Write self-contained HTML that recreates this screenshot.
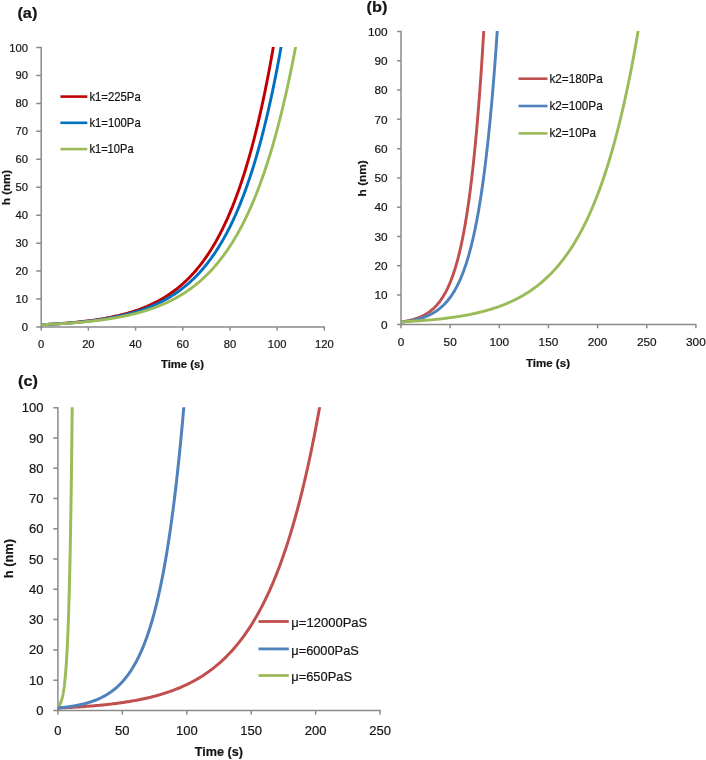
<!DOCTYPE html>
<html><head><meta charset="utf-8"><style>
html,body{margin:0;padding:0;background:#fff;width:706px;height:760px;overflow:hidden}
svg{display:block;will-change:transform}
text{font-family:"Liberation Sans", sans-serif;fill:#141414;stroke:#141414;stroke-width:0.2px}
</style></head><body>
<svg width="706" height="760" viewBox="0 0 706 760">
<rect width="706" height="760" fill="#fff"/>
<path d="M41.2 46.75 L41.2 330.6 M36.2 327 L325.05 327 M36.2 299.05 L41.2 299.05 M36.2 271.1 L41.2 271.1 M36.2 243.15 L41.2 243.15 M36.2 215.2 L41.2 215.2 M36.2 187.25 L41.2 187.25 M36.2 159.3 L41.2 159.3 M36.2 131.35 L41.2 131.35 M36.2 103.4 L41.2 103.4 M36.2 75.45 L41.2 75.45 M36.2 47.5 L41.2 47.5 M88.38 327 L88.38 330.6 M135.57 327 L135.57 330.6 M182.75 327 L182.75 330.6 M229.93 327 L229.93 330.6 M277.12 327 L277.12 330.6 M324.3 327 L324.3 330.6 " stroke="#8a8a8a" stroke-width="1.5" fill="none"/>
<text x="28" y="331" text-anchor="end" font-size="11.2">0</text>
<text x="28" y="303.05" text-anchor="end" font-size="11.2">10</text>
<text x="28" y="275.1" text-anchor="end" font-size="11.2">20</text>
<text x="28" y="247.15" text-anchor="end" font-size="11.2">30</text>
<text x="28" y="219.2" text-anchor="end" font-size="11.2">40</text>
<text x="28" y="191.25" text-anchor="end" font-size="11.2">50</text>
<text x="28" y="163.3" text-anchor="end" font-size="11.2">60</text>
<text x="28" y="135.35" text-anchor="end" font-size="11.2">70</text>
<text x="28" y="107.4" text-anchor="end" font-size="11.2">80</text>
<text x="28" y="79.45" text-anchor="end" font-size="11.2">90</text>
<text x="28" y="51.5" text-anchor="end" font-size="11.2">100</text>
<text x="41.2" y="348" text-anchor="middle" font-size="11.2">0</text>
<text x="88.38" y="348" text-anchor="middle" font-size="11.2">20</text>
<text x="135.57" y="348" text-anchor="middle" font-size="11.2">40</text>
<text x="182.75" y="348" text-anchor="middle" font-size="11.2">60</text>
<text x="229.93" y="348" text-anchor="middle" font-size="11.2">80</text>
<text x="277.12" y="348" text-anchor="middle" font-size="11.2">100</text>
<text x="324.3" y="348" text-anchor="middle" font-size="11.2">120</text>
<text x="161" y="368" font-size="11" font-weight="bold" textLength="43" lengthAdjust="spacingAndGlyphs">Time (s)</text>
<text transform="translate(10 205) rotate(-90)" x="0" y="0" font-size="11.5" font-weight="bold" textLength="35" lengthAdjust="spacingAndGlyphs">h (nm)</text>
<text x="17.4" y="17.5" font-size="15" font-weight="bold" textLength="20" lengthAdjust="spacingAndGlyphs">(a)</text>
<clipPath id="clipa"><rect x="37.2" y="47" width="313.1" height="285.5"/></clipPath>
<g clip-path="url(#clipa)" fill="none" stroke-width="2.9" stroke-linejoin="round">
<path d="M41.2 324.68 L42.26 324.63 L43.32 324.57 L44.38 324.52 L45.44 324.47 L46.5 324.41 L47.56 324.35 L48.61 324.29 L49.67 324.23 L50.73 324.17 L51.79 324.11 L52.85 324.05 L53.91 323.98 L54.97 323.91 L56.03 323.85 L57.09 323.78 L58.15 323.7 L59.21 323.63 L60.27 323.56 L61.32 323.48 L62.38 323.4 L63.44 323.32 L64.5 323.24 L65.56 323.16 L66.62 323.07 L67.68 322.99 L68.74 322.9 L69.8 322.81 L70.86 322.72 L71.92 322.62 L72.98 322.52 L74.04 322.43 L75.09 322.32 L76.15 322.22 L77.21 322.12 L78.27 322.01 L79.33 321.9 L80.39 321.78 L81.45 321.67 L82.51 321.55 L83.57 321.43 L84.63 321.31 L85.69 321.18 L86.75 321.05 L87.8 320.92 L88.86 320.79 L89.92 320.65 L90.98 320.51 L92.04 320.37 L93.1 320.22 L94.16 320.07 L95.22 319.92 L96.28 319.76 L97.34 319.6 L98.4 319.44 L99.46 319.27 L100.52 319.1 L101.57 318.92 L102.63 318.74 L103.69 318.56 L104.75 318.38 L105.81 318.19 L106.87 317.99 L107.93 317.79 L108.99 317.59 L110.05 317.38 L111.11 317.17 L112.17 316.95 L113.23 316.73 L114.28 316.5 L115.34 316.27 L116.4 316.03 L117.46 315.79 L118.52 315.54 L119.58 315.29 L120.64 315.03 L121.7 314.76 L122.76 314.49 L123.82 314.22 L124.88 313.93 L125.94 313.65 L127 313.35 L128.05 313.05 L129.11 312.74 L130.17 312.43 L131.23 312.1 L132.29 311.77 L133.35 311.44 L134.41 311.09 L135.47 310.74 L136.53 310.38 L137.59 310.01 L138.65 309.64 L139.71 309.26 L140.76 308.86 L141.82 308.46 L142.88 308.05 L143.94 307.63 L145 307.21 L146.06 306.77 L147.12 306.32 L148.18 305.86 L149.24 305.4 L150.3 304.92 L151.36 304.43 L152.42 303.93 L153.48 303.42 L154.53 302.9 L155.59 302.37 L156.65 301.82 L157.71 301.27 L158.77 300.7 L159.83 300.12 L160.89 299.52 L161.95 298.92 L163.01 298.29 L164.07 297.66 L165.13 297.01 L166.19 296.35 L167.25 295.67 L168.3 294.98 L169.36 294.27 L170.42 293.55 L171.48 292.81 L172.54 292.05 L173.6 291.28 L174.66 290.49 L175.72 289.68 L176.78 288.86 L177.84 288.02 L178.9 287.15 L179.96 286.27 L181.01 285.37 L182.07 284.45 L183.13 283.51 L184.19 282.55 L185.25 281.57 L186.31 280.56 L187.37 279.54 L188.43 278.49 L189.49 277.42 L190.55 276.32 L191.61 275.2 L192.67 274.05 L193.73 272.88 L194.78 271.69 L195.84 270.46 L196.9 269.22 L197.96 267.94 L199.02 266.63 L200.08 265.3 L201.14 263.93 L202.2 262.54 L203.26 261.11 L204.32 259.66 L205.38 258.17 L206.44 256.65 L207.49 255.09 L208.55 253.5 L209.61 251.88 L210.67 250.22 L211.73 248.52 L212.79 246.79 L213.85 245.01 L214.91 243.2 L215.97 241.35 L217.03 239.46 L218.09 237.52 L219.15 235.54 L220.21 233.52 L221.26 231.45 L222.32 229.34 L223.38 227.18 L224.44 224.98 L225.5 222.72 L226.56 220.42 L227.62 218.06 L228.68 215.65 L229.74 213.19 L230.8 210.68 L231.86 208.1 L232.92 205.48 L233.97 202.79 L235.03 200.04 L236.09 197.24 L237.15 194.37 L238.21 191.44 L239.27 188.44 L240.33 185.38 L241.39 182.25 L242.45 179.05 L243.51 175.78 L244.57 172.44 L245.63 169.02 L246.69 165.53 L247.74 161.96 L248.8 158.31 L249.86 154.58 L250.92 150.77 L251.98 146.87 L253.04 142.89 L254.1 138.82 L255.16 134.66 L256.22 130.41 L257.28 126.07 L258.34 121.62 L259.4 117.08 L260.45 112.44 L261.51 107.7 L262.57 102.85 L263.63 97.9 L264.69 92.83 L265.75 87.66 L266.81 82.37 L267.87 76.96 L268.93 71.43 L269.99 65.78 L271.05 60.01 L272.11 54.11 L273.17 48.08 L274.22 41.91" stroke="#C00000"/>
<path d="M41.2 324.74 L42.29 324.69 L43.39 324.64 L44.48 324.59 L45.58 324.53 L46.67 324.48 L47.77 324.42 L48.86 324.37 L49.96 324.31 L51.05 324.25 L52.14 324.19 L53.24 324.12 L54.33 324.06 L55.43 323.99 L56.52 323.93 L57.62 323.86 L58.71 323.79 L59.81 323.72 L60.9 323.64 L61.99 323.57 L63.09 323.49 L64.18 323.42 L65.28 323.34 L66.37 323.25 L67.47 323.17 L68.56 323.09 L69.65 323 L70.75 322.91 L71.84 322.82 L72.94 322.73 L74.03 322.63 L75.13 322.53 L76.22 322.44 L77.32 322.33 L78.41 322.23 L79.5 322.12 L80.6 322.02 L81.69 321.9 L82.79 321.79 L83.88 321.68 L84.98 321.56 L86.07 321.44 L87.17 321.31 L88.26 321.19 L89.35 321.06 L90.45 320.92 L91.54 320.79 L92.64 320.65 L93.73 320.51 L94.83 320.37 L95.92 320.22 L97.02 320.07 L98.11 319.91 L99.2 319.76 L100.3 319.59 L101.39 319.43 L102.49 319.26 L103.58 319.09 L104.68 318.91 L105.77 318.73 L106.87 318.55 L107.96 318.36 L109.05 318.17 L110.15 317.97 L111.24 317.77 L112.34 317.57 L113.43 317.36 L114.53 317.14 L115.62 316.92 L116.71 316.7 L117.81 316.47 L118.9 316.24 L120 316 L121.09 315.75 L122.19 315.5 L123.28 315.25 L124.38 314.99 L125.47 314.72 L126.56 314.45 L127.66 314.17 L128.75 313.88 L129.85 313.59 L130.94 313.29 L132.04 312.99 L133.13 312.68 L134.23 312.36 L135.32 312.03 L136.41 311.7 L137.51 311.36 L138.6 311.01 L139.7 310.66 L140.79 310.29 L141.89 309.92 L142.98 309.54 L144.08 309.15 L145.17 308.76 L146.26 308.35 L147.36 307.94 L148.45 307.51 L149.55 307.08 L150.64 306.64 L151.74 306.18 L152.83 305.72 L153.93 305.25 L155.02 304.76 L156.11 304.27 L157.21 303.76 L158.3 303.25 L159.4 302.72 L160.49 302.18 L161.59 301.63 L162.68 301.06 L163.77 300.49 L164.87 299.9 L165.96 299.29 L167.06 298.68 L168.15 298.05 L169.25 297.4 L170.34 296.75 L171.44 296.07 L172.53 295.38 L173.62 294.68 L174.72 293.96 L175.81 293.23 L176.91 292.48 L178 291.71 L179.1 290.93 L180.19 290.12 L181.29 289.3 L182.38 288.47 L183.47 287.61 L184.57 286.73 L185.66 285.84 L186.76 284.92 L187.85 283.99 L188.95 283.03 L190.04 282.05 L191.14 281.05 L192.23 280.03 L193.32 278.99 L194.42 277.92 L195.51 276.83 L196.61 275.71 L197.7 274.57 L198.8 273.41 L199.89 272.21 L200.99 271 L202.08 269.75 L203.17 268.48 L204.27 267.18 L205.36 265.85 L206.46 264.49 L207.55 263.1 L208.65 261.68 L209.74 260.22 L210.83 258.74 L211.93 257.22 L213.02 255.67 L214.12 254.08 L215.21 252.46 L216.31 250.8 L217.4 249.11 L218.5 247.38 L219.59 245.61 L220.68 243.8 L221.78 241.95 L222.87 240.06 L223.97 238.12 L225.06 236.15 L226.16 234.13 L227.25 232.06 L228.35 229.95 L229.44 227.79 L230.53 225.59 L231.63 223.33 L232.72 221.03 L233.82 218.67 L234.91 216.26 L236.01 213.8 L237.1 211.28 L238.2 208.71 L239.29 206.08 L240.38 203.39 L241.48 200.64 L242.57 197.83 L243.67 194.96 L244.76 192.03 L245.86 189.02 L246.95 185.96 L248.05 182.82 L249.14 179.61 L250.23 176.34 L251.33 172.99 L252.42 169.56 L253.52 166.06 L254.61 162.48 L255.71 158.83 L256.8 155.09 L257.89 151.26 L258.99 147.36 L260.08 143.36 L261.18 139.28 L262.27 135.1 L263.37 130.84 L264.46 126.48 L265.56 122.02 L266.65 117.46 L267.74 112.8 L268.84 108.04 L269.93 103.17 L271.03 98.19 L272.12 93.1 L273.22 87.9 L274.31 82.59 L275.41 77.15 L276.5 71.6 L277.59 65.92 L278.69 60.11 L279.78 54.18 L280.88 48.11 L281.97 41.91" stroke="#0070C0"/>
<path d="M41.2 324.74 L42.36 324.69 L43.52 324.64 L44.68 324.58 L45.84 324.53 L47 324.48 L48.16 324.42 L49.32 324.36 L50.48 324.3 L51.65 324.24 L52.81 324.18 L53.97 324.12 L55.13 324.06 L56.29 323.99 L57.45 323.92 L58.61 323.86 L59.77 323.79 L60.93 323.71 L62.09 323.64 L63.25 323.57 L64.41 323.49 L65.57 323.41 L66.73 323.33 L67.89 323.25 L69.05 323.17 L70.21 323.08 L71.38 323 L72.54 322.91 L73.7 322.82 L74.86 322.72 L76.02 322.63 L77.18 322.53 L78.34 322.43 L79.5 322.33 L80.66 322.22 L81.82 322.12 L82.98 322.01 L84.14 321.9 L85.3 321.79 L86.46 321.67 L87.62 321.55 L88.78 321.43 L89.94 321.31 L91.11 321.18 L92.27 321.05 L93.43 320.92 L94.59 320.78 L95.75 320.65 L96.91 320.5 L98.07 320.36 L99.23 320.21 L100.39 320.06 L101.55 319.91 L102.71 319.75 L103.87 319.59 L105.03 319.42 L106.19 319.25 L107.35 319.08 L108.51 318.91 L109.67 318.73 L110.83 318.54 L112 318.35 L113.16 318.16 L114.32 317.97 L115.48 317.77 L116.64 317.56 L117.8 317.35 L118.96 317.14 L120.12 316.92 L121.28 316.69 L122.44 316.46 L123.6 316.23 L124.76 315.99 L125.92 315.74 L127.08 315.49 L128.24 315.24 L129.4 314.98 L130.56 314.71 L131.73 314.44 L132.89 314.16 L134.05 313.87 L135.21 313.58 L136.37 313.28 L137.53 312.98 L138.69 312.67 L139.85 312.35 L141.01 312.02 L142.17 311.69 L143.33 311.35 L144.49 311 L145.65 310.64 L146.81 310.28 L147.97 309.91 L149.13 309.53 L150.29 309.14 L151.46 308.74 L152.62 308.34 L153.78 307.92 L154.94 307.5 L156.1 307.06 L157.26 306.62 L158.42 306.17 L159.58 305.71 L160.74 305.23 L161.9 304.75 L163.06 304.25 L164.22 303.75 L165.38 303.23 L166.54 302.7 L167.7 302.16 L168.86 301.61 L170.02 301.05 L171.19 300.47 L172.35 299.88 L173.51 299.28 L174.67 298.66 L175.83 298.03 L176.99 297.39 L178.15 296.73 L179.31 296.05 L180.47 295.37 L181.63 294.66 L182.79 293.95 L183.95 293.21 L185.11 292.46 L186.27 291.69 L187.43 290.91 L188.59 290.1 L189.75 289.28 L190.92 288.45 L192.08 287.59 L193.24 286.71 L194.4 285.82 L195.56 284.9 L196.72 283.97 L197.88 283.01 L199.04 282.03 L200.2 281.03 L201.36 280.01 L202.52 278.96 L203.68 277.9 L204.84 276.81 L206 275.69 L207.16 274.55 L208.32 273.38 L209.48 272.19 L210.64 270.97 L211.81 269.73 L212.97 268.45 L214.13 267.15 L215.29 265.82 L216.45 264.46 L217.61 263.07 L218.77 261.65 L219.93 260.2 L221.09 258.71 L222.25 257.2 L223.41 255.64 L224.57 254.06 L225.73 252.44 L226.89 250.78 L228.05 249.08 L229.21 247.35 L230.37 245.58 L231.54 243.77 L232.7 241.92 L233.86 240.03 L235.02 238.1 L236.18 236.12 L237.34 234.1 L238.5 232.04 L239.66 229.92 L240.82 227.77 L241.98 225.56 L243.14 223.31 L244.3 221 L245.46 218.64 L246.62 216.24 L247.78 213.77 L248.94 211.26 L250.1 208.68 L251.27 206.05 L252.43 203.36 L253.59 200.62 L254.75 197.81 L255.91 194.94 L257.07 192 L258.23 189 L259.39 185.93 L260.55 182.79 L261.71 179.59 L262.87 176.31 L264.03 172.96 L265.19 169.54 L266.35 166.04 L267.51 162.46 L268.67 158.8 L269.83 155.06 L271 151.24 L272.16 147.33 L273.32 143.34 L274.48 139.26 L275.64 135.08 L276.8 130.82 L277.96 126.46 L279.12 122 L280.28 117.44 L281.44 112.78 L282.6 108.02 L283.76 103.15 L284.92 98.18 L286.08 93.09 L287.24 87.89 L288.4 82.58 L289.56 77.14 L290.73 71.59 L291.89 65.91 L293.05 60.11 L294.21 54.17 L295.37 48.11 L296.53 41.91" stroke="#9BBB59"/>
</g>
<path d="M60.4 96.6 L87.3 96.6" stroke="#C00000" stroke-width="2.6" stroke-linecap="butt"/>
<text x="89.4" y="100.7" font-size="11.9" textLength="51.3" lengthAdjust="spacingAndGlyphs">k1=225Pa</text>
<path d="M60.4 122.8 L87.3 122.8" stroke="#0070C0" stroke-width="2.6" stroke-linecap="butt"/>
<text x="89.4" y="126.9" font-size="11.9" textLength="51.3" lengthAdjust="spacingAndGlyphs">k1=100Pa</text>
<path d="M60.4 149.1 L87.3 149.1" stroke="#9BBB59" stroke-width="2.6" stroke-linecap="butt"/>
<text x="89.4" y="153.2" font-size="11.9" textLength="44.2" lengthAdjust="spacingAndGlyphs">k1=10Pa</text>
<path d="M401 30.75 L401 328.3 M397.1 324.4 L696.65 324.4 M397.1 295.11 L401 295.11 M397.1 265.82 L401 265.82 M397.1 236.53 L401 236.53 M397.1 207.24 L401 207.24 M397.1 177.95 L401 177.95 M397.1 148.66 L401 148.66 M397.1 119.37 L401 119.37 M397.1 90.08 L401 90.08 M397.1 60.79 L401 60.79 M397.1 31.5 L401 31.5 M450.15 324.4 L450.15 328.3 M499.3 324.4 L499.3 328.3 M548.45 324.4 L548.45 328.3 M597.6 324.4 L597.6 328.3 M646.75 324.4 L646.75 328.3 M695.9 324.4 L695.9 328.3 " stroke="#8a8a8a" stroke-width="1.5" fill="none"/>
<text x="387.6" y="328.6" text-anchor="end" font-size="11.8">0</text>
<text x="387.6" y="299.31" text-anchor="end" font-size="11.8">10</text>
<text x="387.6" y="270.02" text-anchor="end" font-size="11.8">20</text>
<text x="387.6" y="240.73" text-anchor="end" font-size="11.8">30</text>
<text x="387.6" y="211.44" text-anchor="end" font-size="11.8">40</text>
<text x="387.6" y="182.15" text-anchor="end" font-size="11.8">50</text>
<text x="387.6" y="152.86" text-anchor="end" font-size="11.8">60</text>
<text x="387.6" y="123.57" text-anchor="end" font-size="11.8">70</text>
<text x="387.6" y="94.28" text-anchor="end" font-size="11.8">80</text>
<text x="387.6" y="64.99" text-anchor="end" font-size="11.8">90</text>
<text x="387.6" y="35.7" text-anchor="end" font-size="11.8">100</text>
<text x="401" y="345.9" text-anchor="middle" font-size="11.8">0</text>
<text x="450.15" y="345.9" text-anchor="middle" font-size="11.8">50</text>
<text x="499.3" y="345.9" text-anchor="middle" font-size="11.8">100</text>
<text x="548.45" y="345.9" text-anchor="middle" font-size="11.8">150</text>
<text x="597.6" y="345.9" text-anchor="middle" font-size="11.8">200</text>
<text x="646.75" y="345.9" text-anchor="middle" font-size="11.8">250</text>
<text x="695.9" y="345.9" text-anchor="middle" font-size="11.8">300</text>
<text x="525.9" y="367.2" font-size="11.3" font-weight="bold" textLength="44.1" lengthAdjust="spacingAndGlyphs">Time (s)</text>
<text transform="translate(366.3 196.4) rotate(-90)" x="0" y="0" font-size="11.8" font-weight="bold" textLength="36.2" lengthAdjust="spacingAndGlyphs">h (nm)</text>
<text x="366.6" y="11.5" font-size="15" font-weight="bold" textLength="20.8" lengthAdjust="spacingAndGlyphs">(b)</text>
<clipPath id="clipb"><rect x="397" y="31" width="324.9" height="298.9"/></clipPath>
<g clip-path="url(#clipb)" fill="none" stroke-width="2.9" stroke-linejoin="round">
<path d="M401 321.97 L401.38 321.92 L401.76 321.86 L402.13 321.8 L402.51 321.75 L402.89 321.69 L403.27 321.63 L403.64 321.57 L404.02 321.5 L404.4 321.44 L404.78 321.37 L405.15 321.31 L405.53 321.24 L405.91 321.17 L406.29 321.1 L406.66 321.03 L407.04 320.95 L407.42 320.87 L407.8 320.8 L408.17 320.72 L408.55 320.64 L408.93 320.55 L409.31 320.47 L409.68 320.38 L410.06 320.29 L410.44 320.2 L410.82 320.11 L411.19 320.01 L411.57 319.92 L411.95 319.82 L412.33 319.71 L412.7 319.61 L413.08 319.51 L413.46 319.4 L413.84 319.29 L414.21 319.17 L414.59 319.06 L414.97 318.94 L415.35 318.82 L415.72 318.7 L416.1 318.57 L416.48 318.44 L416.86 318.31 L417.23 318.17 L417.61 318.04 L417.99 317.9 L418.37 317.75 L418.74 317.6 L419.12 317.45 L419.5 317.3 L419.88 317.14 L420.25 316.98 L420.63 316.82 L421.01 316.65 L421.39 316.48 L421.76 316.31 L422.14 316.13 L422.52 315.94 L422.9 315.76 L423.27 315.57 L423.65 315.37 L424.03 315.17 L424.41 314.97 L424.78 314.76 L425.16 314.54 L425.54 314.33 L425.92 314.1 L426.29 313.88 L426.67 313.64 L427.05 313.41 L427.43 313.16 L427.8 312.91 L428.18 312.66 L428.56 312.4 L428.94 312.14 L429.31 311.86 L429.69 311.59 L430.07 311.3 L430.45 311.01 L430.82 310.72 L431.2 310.42 L431.58 310.11 L431.96 309.79 L432.34 309.47 L432.71 309.14 L433.09 308.8 L433.47 308.46 L433.85 308.1 L434.22 307.74 L434.6 307.37 L434.98 307 L435.36 306.61 L435.73 306.22 L436.11 305.82 L436.49 305.41 L436.87 304.99 L437.24 304.56 L437.62 304.12 L438 303.67 L438.38 303.21 L438.75 302.74 L439.13 302.27 L439.51 301.78 L439.89 301.28 L440.26 300.76 L440.64 300.24 L441.02 299.71 L441.4 299.16 L441.77 298.6 L442.15 298.03 L442.53 297.45 L442.91 296.85 L443.28 296.25 L443.66 295.62 L444.04 294.99 L444.42 294.34 L444.79 293.67 L445.17 292.99 L445.55 292.3 L445.93 291.59 L446.3 290.86 L446.68 290.12 L447.06 289.36 L447.44 288.59 L447.81 287.8 L448.19 286.99 L448.57 286.16 L448.95 285.31 L449.32 284.45 L449.7 283.57 L450.08 282.66 L450.46 281.74 L450.83 280.8 L451.21 279.83 L451.59 278.85 L451.97 277.84 L452.34 276.81 L452.72 275.76 L453.1 274.68 L453.48 273.58 L453.85 272.46 L454.23 271.31 L454.61 270.14 L454.99 268.94 L455.36 267.71 L455.74 266.46 L456.12 265.18 L456.5 263.87 L456.87 262.53 L457.25 261.16 L457.63 259.76 L458.01 258.34 L458.38 256.87 L458.76 255.38 L459.14 253.86 L459.52 252.3 L459.89 250.7 L460.27 249.07 L460.65 247.41 L461.03 245.7 L461.41 243.96 L461.78 242.19 L462.16 240.37 L462.54 238.51 L462.92 236.61 L463.29 234.67 L463.67 232.69 L464.05 230.66 L464.43 228.59 L464.8 226.47 L465.18 224.3 L465.56 222.09 L465.94 219.83 L466.31 217.51 L466.69 215.15 L467.07 212.73 L467.45 210.27 L467.82 207.74 L468.2 205.16 L468.58 202.53 L468.96 199.83 L469.33 197.08 L469.71 194.26 L470.09 191.39 L470.47 188.44 L470.84 185.44 L471.22 182.37 L471.6 179.23 L471.98 176.02 L472.35 172.73 L472.73 169.38 L473.11 165.95 L473.49 162.45 L473.86 158.87 L474.24 155.21 L474.62 151.47 L475 147.65 L475.37 143.74 L475.75 139.74 L476.13 135.66 L476.51 131.49 L476.88 127.22 L477.26 122.86 L477.64 118.41 L478.02 113.85 L478.39 109.2 L478.77 104.44 L479.15 99.57 L479.53 94.6 L479.9 89.52 L480.28 84.33 L480.66 79.02 L481.04 73.59 L481.41 68.05 L481.79 62.38 L482.17 56.59 L482.55 50.67 L482.92 44.61 L483.3 38.43 L483.68 32.1 L484.06 25.64" stroke="#C0504D"/>
<path d="M401 322.17 L401.44 322.11 L401.88 322.06 L402.32 322.01 L402.76 321.96 L403.2 321.9 L403.63 321.85 L404.07 321.79 L404.51 321.73 L404.95 321.67 L405.39 321.61 L405.83 321.55 L406.27 321.48 L406.71 321.42 L407.15 321.35 L407.59 321.28 L408.03 321.21 L408.47 321.14 L408.9 321.06 L409.34 320.99 L409.78 320.91 L410.22 320.83 L410.66 320.75 L411.1 320.67 L411.54 320.59 L411.98 320.5 L412.42 320.41 L412.86 320.32 L413.3 320.23 L413.73 320.14 L414.17 320.04 L414.61 319.95 L415.05 319.84 L415.49 319.74 L415.93 319.64 L416.37 319.53 L416.81 319.42 L417.25 319.31 L417.69 319.19 L418.13 319.08 L418.57 318.96 L419 318.83 L419.44 318.71 L419.88 318.58 L420.32 318.45 L420.76 318.32 L421.2 318.18 L421.64 318.04 L422.08 317.9 L422.52 317.75 L422.96 317.6 L423.4 317.45 L423.84 317.29 L424.27 317.13 L424.71 316.97 L425.15 316.8 L425.59 316.63 L426.03 316.46 L426.47 316.28 L426.91 316.09 L427.35 315.91 L427.79 315.72 L428.23 315.52 L428.67 315.32 L429.1 315.12 L429.54 314.91 L429.98 314.69 L430.42 314.47 L430.86 314.25 L431.3 314.02 L431.74 313.79 L432.18 313.55 L432.62 313.31 L433.06 313.06 L433.5 312.8 L433.94 312.54 L434.37 312.27 L434.81 312 L435.25 311.72 L435.69 311.44 L436.13 311.15 L436.57 310.85 L437.01 310.54 L437.45 310.23 L437.89 309.91 L438.33 309.59 L438.77 309.25 L439.2 308.91 L439.64 308.56 L440.08 308.21 L440.52 307.84 L440.96 307.47 L441.4 307.09 L441.84 306.7 L442.28 306.3 L442.72 305.89 L443.16 305.48 L443.6 305.05 L444.04 304.62 L444.47 304.17 L444.91 303.72 L445.35 303.25 L445.79 302.77 L446.23 302.29 L446.67 301.79 L447.11 301.28 L447.55 300.76 L447.99 300.23 L448.43 299.69 L448.87 299.13 L449.31 298.56 L449.74 297.98 L450.18 297.38 L450.62 296.78 L451.06 296.16 L451.5 295.52 L451.94 294.87 L452.38 294.21 L452.82 293.53 L453.26 292.83 L453.7 292.12 L454.14 291.39 L454.57 290.65 L455.01 289.89 L455.45 289.12 L455.89 288.32 L456.33 287.51 L456.77 286.68 L457.21 285.83 L457.65 284.96 L458.09 284.08 L458.53 283.17 L458.97 282.24 L459.41 281.29 L459.84 280.32 L460.28 279.33 L460.72 278.32 L461.16 277.28 L461.6 276.22 L462.04 275.14 L462.48 274.03 L462.92 272.89 L463.36 271.73 L463.8 270.55 L464.24 269.34 L464.67 268.1 L465.11 266.83 L465.55 265.54 L465.99 264.21 L466.43 262.86 L466.87 261.47 L467.31 260.06 L467.75 258.61 L468.19 257.13 L468.63 255.61 L469.07 254.07 L469.51 252.48 L469.94 250.87 L470.38 249.21 L470.82 247.52 L471.26 245.79 L471.7 244.02 L472.14 242.21 L472.58 240.36 L473.02 238.47 L473.46 236.54 L473.9 234.56 L474.34 232.54 L474.78 230.47 L475.21 228.36 L475.65 226.2 L476.09 223.99 L476.53 221.73 L476.97 219.42 L477.41 217.06 L477.85 214.64 L478.29 212.17 L478.73 209.65 L479.17 207.06 L479.61 204.42 L480.04 201.72 L480.48 198.96 L480.92 196.14 L481.36 193.25 L481.8 190.3 L482.24 187.29 L482.68 184.2 L483.12 181.05 L483.56 177.82 L484 174.52 L484.44 171.15 L484.88 167.7 L485.31 164.18 L485.75 160.57 L486.19 156.88 L486.63 153.11 L487.07 149.26 L487.51 145.32 L487.95 141.29 L488.39 137.17 L488.83 132.96 L489.27 128.65 L489.71 124.24 L490.14 119.74 L490.58 115.14 L491.02 110.43 L491.46 105.61 L491.9 100.69 L492.34 95.65 L492.78 90.51 L493.22 85.24 L493.66 79.86 L494.1 74.36 L494.54 68.73 L494.98 62.98 L495.41 57.1 L495.85 51.08 L496.29 44.93 L496.73 38.65 L497.17 32.22 L497.61 25.64" stroke="#4F81BD"/>
<path d="M401 321.91 L402.08 321.86 L403.16 321.8 L404.25 321.75 L405.33 321.69 L406.41 321.63 L407.49 321.57 L408.57 321.5 L409.66 321.44 L410.74 321.38 L411.82 321.31 L412.9 321.24 L413.98 321.17 L415.07 321.1 L416.15 321.03 L417.23 320.95 L418.31 320.88 L419.39 320.8 L420.48 320.72 L421.56 320.64 L422.64 320.56 L423.72 320.47 L424.8 320.39 L425.89 320.3 L426.97 320.21 L428.05 320.11 L429.13 320.02 L430.21 319.92 L431.3 319.83 L432.38 319.73 L433.46 319.62 L434.54 319.52 L435.62 319.41 L436.71 319.3 L437.79 319.19 L438.87 319.07 L439.95 318.96 L441.03 318.84 L442.12 318.71 L443.2 318.59 L444.28 318.46 L445.36 318.33 L446.44 318.2 L447.53 318.06 L448.61 317.92 L449.69 317.78 L450.77 317.63 L451.85 317.48 L452.94 317.33 L454.02 317.18 L455.1 317.02 L456.18 316.85 L457.26 316.69 L458.35 316.52 L459.43 316.34 L460.51 316.17 L461.59 315.99 L462.67 315.8 L463.76 315.61 L464.84 315.42 L465.92 315.22 L467 315.02 L468.08 314.81 L469.17 314.6 L470.25 314.39 L471.33 314.17 L472.41 313.94 L473.49 313.71 L474.58 313.47 L475.66 313.23 L476.74 312.99 L477.82 312.74 L478.9 312.48 L479.99 312.22 L481.07 311.95 L482.15 311.68 L483.23 311.4 L484.31 311.11 L485.4 310.82 L486.48 310.52 L487.56 310.21 L488.64 309.9 L489.72 309.58 L490.81 309.26 L491.89 308.92 L492.97 308.58 L494.05 308.23 L495.13 307.88 L496.22 307.51 L497.3 307.14 L498.38 306.76 L499.46 306.38 L500.54 305.98 L501.63 305.57 L502.71 305.16 L503.79 304.74 L504.87 304.3 L505.95 303.86 L507.04 303.41 L508.12 302.95 L509.2 302.47 L510.28 301.99 L511.36 301.5 L512.45 301 L513.53 300.48 L514.61 299.95 L515.69 299.42 L516.77 298.87 L517.86 298.3 L518.94 297.73 L520.02 297.14 L521.1 296.54 L522.18 295.93 L523.27 295.3 L524.35 294.66 L525.43 294.01 L526.51 293.34 L527.59 292.66 L528.68 291.96 L529.76 291.24 L530.84 290.52 L531.92 289.77 L533 289.01 L534.09 288.23 L535.17 287.43 L536.25 286.62 L537.33 285.79 L538.41 284.94 L539.5 284.07 L540.58 283.18 L541.66 282.28 L542.74 281.35 L543.82 280.4 L544.91 279.43 L545.99 278.44 L547.07 277.43 L548.15 276.4 L549.23 275.34 L550.32 274.26 L551.4 273.16 L552.48 272.03 L553.56 270.88 L554.64 269.7 L555.73 268.5 L556.81 267.27 L557.89 266.01 L558.97 264.73 L560.05 263.41 L561.14 262.07 L562.22 260.7 L563.3 259.3 L564.38 257.86 L565.46 256.4 L566.55 254.9 L567.63 253.37 L568.71 251.81 L569.79 250.21 L570.87 248.58 L571.96 246.91 L573.04 245.21 L574.12 243.47 L575.2 241.69 L576.28 239.86 L577.37 238 L578.45 236.1 L579.53 234.16 L580.61 232.17 L581.69 230.15 L582.78 228.07 L583.86 225.95 L584.94 223.79 L586.02 221.57 L587.1 219.31 L588.19 217 L589.27 214.63 L590.35 212.22 L591.43 209.75 L592.51 207.23 L593.6 204.65 L594.68 202.01 L595.76 199.32 L596.84 196.57 L597.92 193.75 L599.01 190.88 L600.09 187.94 L601.17 184.94 L602.25 181.87 L603.33 178.73 L604.42 175.53 L605.5 172.25 L606.58 168.9 L607.66 165.48 L608.74 161.98 L609.83 158.41 L610.91 154.76 L611.99 151.02 L613.07 147.21 L614.15 143.31 L615.24 139.32 L616.32 135.25 L617.4 131.09 L618.48 126.84 L619.56 122.49 L620.65 118.04 L621.73 113.5 L622.81 108.86 L623.89 104.12 L624.97 99.27 L626.06 94.32 L627.14 89.26 L628.22 84.08 L629.3 78.79 L630.39 73.39 L631.47 67.86 L632.55 62.22 L633.63 56.45 L634.71 50.55 L635.8 44.53 L636.88 38.37 L637.96 32.07 L639.04 25.64" stroke="#9BBB59"/>
</g>
<path d="M518.5 78.7 L547.5 78.7" stroke="#C0504D" stroke-width="2.6" stroke-linecap="butt"/>
<text x="549.4" y="82.7" font-size="12.1" textLength="53.4" lengthAdjust="spacingAndGlyphs">k2=180Pa</text>
<path d="M518.5 106 L547.5 106" stroke="#4F81BD" stroke-width="2.6" stroke-linecap="butt"/>
<text x="549.4" y="110" font-size="12.1" textLength="53.4" lengthAdjust="spacingAndGlyphs">k2=100Pa</text>
<path d="M518.5 133.4 L547.5 133.4" stroke="#9BBB59" stroke-width="2.6" stroke-linecap="butt"/>
<text x="549.4" y="137.4" font-size="12.1" textLength="46.6" lengthAdjust="spacingAndGlyphs">k2=10Pa</text>
<path d="M57.9 407.05 L57.9 714.5 M53.3 710.4 L380.85 710.4 M53.3 680.14 L57.9 680.14 M53.3 649.88 L57.9 649.88 M53.3 619.62 L57.9 619.62 M53.3 589.36 L57.9 589.36 M53.3 559.1 L57.9 559.1 M53.3 528.84 L57.9 528.84 M53.3 498.58 L57.9 498.58 M53.3 468.32 L57.9 468.32 M53.3 438.06 L57.9 438.06 M53.3 407.8 L57.9 407.8 M122.34 710.4 L122.34 714.5 M186.78 710.4 L186.78 714.5 M251.22 710.4 L251.22 714.5 M315.66 710.4 L315.66 714.5 M380.1 710.4 L380.1 714.5 " stroke="#8a8a8a" stroke-width="1.5" fill="none"/>
<text x="43.4" y="715" text-anchor="end" font-size="13">0</text>
<text x="43.4" y="684.74" text-anchor="end" font-size="13">10</text>
<text x="43.4" y="654.48" text-anchor="end" font-size="13">20</text>
<text x="43.4" y="624.22" text-anchor="end" font-size="13">30</text>
<text x="43.4" y="593.96" text-anchor="end" font-size="13">40</text>
<text x="43.4" y="563.7" text-anchor="end" font-size="13">50</text>
<text x="43.4" y="533.44" text-anchor="end" font-size="13">60</text>
<text x="43.4" y="503.18" text-anchor="end" font-size="13">70</text>
<text x="43.4" y="472.92" text-anchor="end" font-size="13">80</text>
<text x="43.4" y="442.66" text-anchor="end" font-size="13">90</text>
<text x="43.4" y="412.4" text-anchor="end" font-size="13">100</text>
<text x="57.9" y="735" text-anchor="middle" font-size="13">0</text>
<text x="122.34" y="735" text-anchor="middle" font-size="13">50</text>
<text x="186.78" y="735" text-anchor="middle" font-size="13">100</text>
<text x="251.22" y="735" text-anchor="middle" font-size="13">150</text>
<text x="315.66" y="735" text-anchor="middle" font-size="13">200</text>
<text x="380.1" y="735" text-anchor="middle" font-size="13">250</text>
<text x="194.7" y="756" font-size="12" font-weight="bold" textLength="48.2" lengthAdjust="spacingAndGlyphs">Time (s)</text>
<text transform="translate(12.9 578.2) rotate(-90)" x="0" y="0" font-size="12.5" font-weight="bold" textLength="39.2" lengthAdjust="spacingAndGlyphs">h (nm)</text>
<text x="18.1" y="386" font-size="15.5" font-weight="bold" textLength="19.9" lengthAdjust="spacingAndGlyphs">(c)</text>
<clipPath id="clipc"><rect x="53.9" y="407.3" width="352.2" height="308.6"/></clipPath>
<g clip-path="url(#clipc)" fill="none" stroke-width="3.0" stroke-linejoin="round">
<path d="M57.9 708.03 L59.09 707.98 L60.29 707.93 L61.48 707.87 L62.68 707.81 L63.87 707.76 L65.06 707.7 L66.26 707.64 L67.45 707.58 L68.65 707.51 L69.84 707.45 L71.03 707.38 L72.23 707.31 L73.42 707.24 L74.62 707.17 L75.81 707.1 L77 707.03 L78.2 706.95 L79.39 706.88 L80.59 706.8 L81.78 706.72 L82.97 706.63 L84.17 706.55 L85.36 706.46 L86.56 706.37 L87.75 706.28 L88.94 706.19 L90.14 706.1 L91.33 706 L92.53 705.9 L93.72 705.8 L94.91 705.7 L96.11 705.59 L97.3 705.49 L98.5 705.38 L99.69 705.26 L100.88 705.15 L102.08 705.03 L103.27 704.91 L104.47 704.79 L105.66 704.66 L106.85 704.53 L108.05 704.4 L109.24 704.27 L110.44 704.13 L111.63 703.99 L112.82 703.85 L114.02 703.7 L115.21 703.55 L116.41 703.4 L117.6 703.24 L118.79 703.08 L119.99 702.92 L121.18 702.75 L122.38 702.58 L123.57 702.4 L124.76 702.22 L125.96 702.04 L127.15 701.85 L128.35 701.66 L129.54 701.47 L130.73 701.27 L131.93 701.06 L133.12 700.85 L134.32 700.64 L135.51 700.42 L136.7 700.2 L137.9 699.97 L139.09 699.74 L140.29 699.5 L141.48 699.25 L142.67 699 L143.87 698.75 L145.06 698.49 L146.26 698.22 L147.45 697.95 L148.64 697.67 L149.84 697.38 L151.03 697.09 L152.23 696.8 L153.42 696.49 L154.61 696.18 L155.81 695.86 L157 695.54 L158.2 695.2 L159.39 694.86 L160.58 694.51 L161.78 694.16 L162.97 693.8 L164.17 693.42 L165.36 693.04 L166.55 692.65 L167.75 692.26 L168.94 691.85 L170.14 691.44 L171.33 691.01 L172.53 690.58 L173.72 690.13 L174.91 689.68 L176.11 689.22 L177.3 688.74 L178.5 688.26 L179.69 687.76 L180.88 687.25 L182.08 686.74 L183.27 686.21 L184.47 685.67 L185.66 685.11 L186.85 684.55 L188.05 683.97 L189.24 683.37 L190.44 682.77 L191.63 682.15 L192.82 681.52 L194.02 680.87 L195.21 680.21 L196.41 679.54 L197.6 678.84 L198.79 678.14 L199.99 677.42 L201.18 676.68 L202.38 675.92 L203.57 675.15 L204.76 674.36 L205.96 673.55 L207.15 672.73 L208.35 671.89 L209.54 671.02 L210.73 670.14 L211.93 669.24 L213.12 668.32 L214.32 667.38 L215.51 666.41 L216.7 665.43 L217.9 664.42 L219.09 663.39 L220.29 662.34 L221.48 661.27 L222.67 660.17 L223.87 659.04 L225.06 657.89 L226.26 656.72 L227.45 655.51 L228.64 654.28 L229.84 653.03 L231.03 651.74 L232.23 650.43 L233.42 649.09 L234.61 647.72 L235.81 646.31 L237 644.88 L238.2 643.41 L239.39 641.91 L240.58 640.38 L241.78 638.81 L242.97 637.21 L244.17 635.57 L245.36 633.89 L246.55 632.18 L247.75 630.43 L248.94 628.64 L250.14 626.81 L251.33 624.94 L252.52 623.02 L253.72 621.07 L254.91 619.07 L256.11 617.02 L257.3 614.93 L258.49 612.8 L259.69 610.61 L260.88 608.38 L262.08 606.09 L263.27 603.76 L264.46 601.37 L265.66 598.93 L266.85 596.43 L268.05 593.88 L269.24 591.27 L270.43 588.61 L271.63 585.88 L272.82 583.09 L274.02 580.24 L275.21 577.33 L276.4 574.35 L277.6 571.3 L278.79 568.19 L279.99 565.01 L281.18 561.75 L282.37 558.42 L283.57 555.02 L284.76 551.54 L285.96 547.99 L287.15 544.35 L288.34 540.63 L289.54 536.83 L290.73 532.95 L291.93 528.97 L293.12 524.91 L294.31 520.76 L295.51 516.51 L296.7 512.17 L297.9 507.74 L299.09 503.2 L300.28 498.56 L301.48 493.82 L302.67 488.97 L303.87 484.01 L305.06 478.94 L306.25 473.76 L307.45 468.46 L308.64 463.05 L309.84 457.51 L311.03 451.85 L312.22 446.06 L313.42 440.14 L314.61 434.09 L315.81 427.91 L317 421.58 L318.19 415.12 L319.39 408.51 L320.58 401.75" stroke="#C0504D"/>
<path d="M57.9 707.17 L57.97 707.1 L58.03 707.03 L58.1 706.96 L58.16 706.89 L58.23 706.81 L58.29 706.74 L58.36 706.66 L58.42 706.58 L58.49 706.5 L58.55 706.42 L58.62 706.34 L58.68 706.25 L58.75 706.17 L58.81 706.08 L58.88 705.99 L58.94 705.89 L59.01 705.8 L59.08 705.7 L59.14 705.6 L59.21 705.5 L59.27 705.4 L59.34 705.3 L59.4 705.19 L59.47 705.08 L59.53 704.97 L59.6 704.86 L59.66 704.74 L59.73 704.62 L59.79 704.5 L59.86 704.38 L59.92 704.25 L59.99 704.12 L60.05 703.99 L60.12 703.86 L60.18 703.72 L60.25 703.58 L60.32 703.44 L60.38 703.29 L60.45 703.14 L60.51 702.99 L60.58 702.84 L60.64 702.68 L60.71 702.52 L60.77 702.35 L60.84 702.18 L60.9 702.01 L60.97 701.83 L61.03 701.65 L61.1 701.47 L61.16 701.28 L61.23 701.09 L61.29 700.9 L61.36 700.7 L61.43 700.5 L61.49 700.29 L61.56 700.08 L61.62 699.86 L61.69 699.64 L61.75 699.42 L61.82 699.19 L61.88 698.95 L61.95 698.71 L62.01 698.47 L62.08 698.22 L62.14 697.96 L62.21 697.7 L62.27 697.44 L62.34 697.16 L62.4 696.89 L62.47 696.6 L62.54 696.32 L62.6 696.02 L62.67 695.72 L62.73 695.41 L62.8 695.1 L62.86 694.78 L62.93 694.45 L62.99 694.12 L63.06 693.78 L63.12 693.43 L63.19 693.07 L63.25 692.71 L63.32 692.34 L63.38 691.96 L63.45 691.58 L63.51 691.18 L63.58 690.78 L63.65 690.37 L63.71 689.95 L63.78 689.52 L63.84 689.08 L63.91 688.64 L63.97 688.18 L64.04 687.72 L64.1 687.24 L64.17 686.76 L64.23 686.26 L64.3 685.76 L64.36 685.24 L64.43 684.72 L64.49 684.18 L64.56 683.63 L64.62 683.07 L64.69 682.5 L64.75 681.91 L64.82 681.32 L64.89 680.71 L64.95 680.08 L65.02 679.45 L65.08 678.8 L65.15 678.14 L65.21 677.47 L65.28 676.78 L65.34 676.07 L65.41 675.35 L65.47 674.62 L65.54 673.87 L65.6 673.11 L65.67 672.32 L65.73 671.53 L65.8 670.71 L65.86 669.88 L65.93 669.03 L66 668.17 L66.06 667.28 L66.13 666.38 L66.19 665.46 L66.26 664.52 L66.32 663.56 L66.39 662.58 L66.45 661.58 L66.52 660.56 L66.58 659.51 L66.65 658.45 L66.71 657.36 L66.78 656.25 L66.84 655.11 L66.91 653.96 L66.97 652.78 L67.04 651.57 L67.11 650.34 L67.17 649.08 L67.24 647.8 L67.3 646.49 L67.37 645.15 L67.43 643.78 L67.5 642.39 L67.56 640.96 L67.63 639.51 L67.69 638.02 L67.76 636.51 L67.82 634.96 L67.89 633.38 L67.95 631.77 L68.02 630.12 L68.08 628.44 L68.15 626.73 L68.21 624.98 L68.28 623.19 L68.35 621.36 L68.41 619.5 L68.48 617.6 L68.54 615.65 L68.61 613.67 L68.67 611.64 L68.74 609.58 L68.8 607.47 L68.87 605.31 L68.93 603.11 L69 600.86 L69.06 598.57 L69.13 596.23 L69.19 593.84 L69.26 591.4 L69.32 588.91 L69.39 586.36 L69.46 583.77 L69.52 581.12 L69.59 578.41 L69.65 575.65 L69.72 572.83 L69.78 569.95 L69.85 567.01 L69.91 564 L69.98 560.94 L70.04 557.81 L70.11 554.61 L70.17 551.35 L70.24 548.02 L70.3 544.62 L70.37 541.15 L70.43 537.61 L70.5 533.99 L70.57 530.3 L70.63 526.53 L70.7 522.68 L70.76 518.75 L70.83 514.74 L70.89 510.64 L70.96 506.46 L71.02 502.19 L71.09 497.83 L71.15 493.38 L71.22 488.84 L71.28 484.2 L71.35 479.46 L71.41 474.63 L71.48 469.69 L71.54 464.65 L71.61 459.51 L71.67 454.26 L71.74 448.89 L71.81 443.42 L71.87 437.83 L71.94 432.12 L72 426.3 L72.07 420.35 L72.13 414.28 L72.2 408.08 L72.26 401.75" stroke="#9BBB59"/>
<path d="M57.9 707.99 L58.47 707.94 L59.05 707.88 L59.62 707.83 L60.2 707.77 L60.77 707.71 L61.35 707.65 L61.92 707.59 L62.5 707.53 L63.07 707.46 L63.64 707.4 L64.22 707.33 L64.79 707.26 L65.37 707.19 L65.94 707.12 L66.52 707.05 L67.09 706.97 L67.66 706.9 L68.24 706.82 L68.81 706.74 L69.39 706.66 L69.96 706.57 L70.54 706.49 L71.11 706.4 L71.69 706.31 L72.26 706.22 L72.83 706.13 L73.41 706.03 L73.98 705.93 L74.56 705.83 L75.13 705.73 L75.71 705.63 L76.28 705.52 L76.85 705.41 L77.43 705.3 L78 705.19 L78.58 705.07 L79.15 704.95 L79.73 704.83 L80.3 704.71 L80.88 704.58 L81.45 704.45 L82.02 704.32 L82.6 704.18 L83.17 704.04 L83.75 703.9 L84.32 703.76 L84.9 703.61 L85.47 703.46 L86.04 703.3 L86.62 703.14 L87.19 702.98 L87.77 702.81 L88.34 702.65 L88.92 702.47 L89.49 702.3 L90.07 702.12 L90.64 701.93 L91.21 701.74 L91.79 701.55 L92.36 701.35 L92.94 701.15 L93.51 700.94 L94.09 700.73 L94.66 700.52 L95.23 700.3 L95.81 700.07 L96.38 699.84 L96.96 699.6 L97.53 699.36 L98.11 699.12 L98.68 698.87 L99.26 698.61 L99.83 698.35 L100.4 698.08 L100.98 697.8 L101.55 697.52 L102.13 697.23 L102.7 696.94 L103.28 696.64 L103.85 696.33 L104.42 696.02 L105 695.7 L105.57 695.37 L106.15 695.03 L106.72 694.69 L107.3 694.34 L107.87 693.98 L108.45 693.62 L109.02 693.24 L109.59 692.86 L110.17 692.47 L110.74 692.07 L111.32 691.66 L111.89 691.24 L112.47 690.82 L113.04 690.38 L113.61 689.93 L114.19 689.48 L114.76 689.01 L115.34 688.53 L115.91 688.04 L116.49 687.54 L117.06 687.04 L117.64 686.51 L118.21 685.98 L118.78 685.44 L119.36 684.88 L119.93 684.31 L120.51 683.73 L121.08 683.13 L121.66 682.53 L122.23 681.9 L122.8 681.27 L123.38 680.62 L123.95 679.95 L124.53 679.28 L125.1 678.58 L125.68 677.87 L126.25 677.15 L126.83 676.4 L127.4 675.65 L127.97 674.87 L128.55 674.08 L129.12 673.27 L129.7 672.44 L130.27 671.59 L130.85 670.73 L131.42 669.84 L131.99 668.94 L132.57 668.01 L133.14 667.07 L133.72 666.1 L134.29 665.11 L134.87 664.1 L135.44 663.07 L136.02 662.01 L136.59 660.94 L137.16 659.83 L137.74 658.7 L138.31 657.55 L138.89 656.37 L139.46 655.17 L140.04 653.94 L140.61 652.68 L141.18 651.39 L141.76 650.07 L142.33 648.73 L142.91 647.35 L143.48 645.94 L144.06 644.51 L144.63 643.04 L145.21 641.53 L145.78 640 L146.35 638.43 L146.93 636.82 L147.5 635.18 L148.08 633.5 L148.65 631.79 L149.23 630.04 L149.8 628.24 L150.37 626.41 L150.95 624.54 L151.52 622.62 L152.1 620.66 L152.67 618.66 L153.25 616.62 L153.82 614.52 L154.4 612.39 L154.97 610.2 L155.54 607.96 L156.12 605.68 L156.69 603.34 L157.27 600.96 L157.84 598.52 L158.42 596.02 L158.99 593.47 L159.56 590.86 L160.14 588.19 L160.71 585.47 L161.29 582.68 L161.86 579.83 L162.44 576.92 L163.01 573.94 L163.59 570.9 L164.16 567.79 L164.73 564.61 L165.31 561.36 L165.88 558.03 L166.46 554.63 L167.03 551.16 L167.61 547.61 L168.18 543.98 L168.75 540.26 L169.33 536.47 L169.9 532.59 L170.48 528.62 L171.05 524.57 L171.63 520.42 L172.2 516.19 L172.78 511.85 L173.35 507.43 L173.92 502.9 L174.5 498.27 L175.07 493.54 L175.65 488.7 L176.22 483.76 L176.8 478.7 L177.37 473.53 L177.94 468.25 L178.52 462.85 L179.09 457.33 L179.67 451.68 L180.24 445.91 L180.82 440.01 L181.39 433.98 L181.97 427.82 L182.54 421.51 L183.11 415.07 L183.69 408.48 L184.26 401.75" stroke="#4F81BD"/>
</g>
<path d="M258.5 621.5 L288.8 621.5" stroke="#C0504D" stroke-width="2.8" stroke-linecap="butt"/>
<text x="291.3" y="627.1" font-size="12.7" textLength="76" lengthAdjust="spacingAndGlyphs">μ=12000PaS</text>
<path d="M258.5 648.9 L288.8 648.9" stroke="#4F81BD" stroke-width="2.8" stroke-linecap="butt"/>
<text x="291.3" y="654.5" font-size="12.7" textLength="67.5" lengthAdjust="spacingAndGlyphs">μ=6000PaS</text>
<path d="M258.5 675.5 L288.8 675.5" stroke="#9BBB59" stroke-width="2.8" stroke-linecap="butt"/>
<text x="291.3" y="681.1" font-size="12.7" textLength="60.7" lengthAdjust="spacingAndGlyphs">μ=650PaS</text>
</svg>
</body></html>
